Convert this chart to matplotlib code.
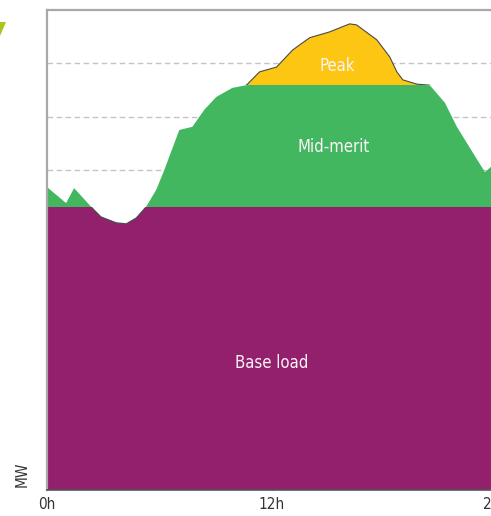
import matplotlib.pyplot as plt
from matplotlib.patches import Polygon, Rectangle
import numpy as np

# Daily load curve split into base load / mid-merit / peak bands

##########################################################
###################### Input Data ########################
##########################################################

hours = [0.00, 1.02, 1.45, 2.36, 2.52, 2.89, 3.70, 4.23, 4.77, 5.30, 5.84,
         6.27, 7.07, 7.77, 8.41, 9.05, 9.91, 10.66, 11.36, 12.27, 13.13,
         14.04, 15.11, 16.18, 16.55, 17.63, 18.32, 18.70, 19.02, 19.77,
         20.46, 21.27, 21.91, 22.77, 23.41, 23.73, 24.00]
load = [5.68, 5.38, 5.66, 5.31, 5.25, 5.12, 5.01, 4.99, 5.10, 5.31, 5.63,
        6.00, 6.75, 6.81, 7.13, 7.37, 7.54, 7.59, 7.84, 7.93, 8.25,
        8.48, 8.59, 8.74, 8.72, 8.44, 8.12, 7.84, 7.69, 7.61,
        7.59, 7.26, 6.81, 6.32, 5.96, 6.06, 6.19]

base_level = 5.31
mid_level = 7.59
y_max = 9

tick_hours = [0, 12, 24]
tick_labels = ['0h', '12h', '24h']

bands = ['Base load', 'Mid-merit', 'Peak']
band_colors = ['#93206c', '#43b760', '#fdc613']
label_pos = [(12.0, 2.38), (15.32, 6.43), (15.54, 7.95)]

##########################################################
####################### Plotting #########################
##########################################################
plt.rcParams['font.family'] = ['DejaVu Sans']
plt.rcParams['font.stretch'] = 'condensed'

fig = plt.figure(figsize=(4.91, 5.16), dpi=100)
ax = fig.add_axes([47 / 491, 26 / 516, 449 / 491, 480 / 516])
ax.set_xlim(0, 24)
ax.set_ylim(0, y_max)

# area under the curve, used to clip the three bands
under = Polygon(np.column_stack([hours + [24, 0], load + [0, 0]]),
                closed=True, transform=ax.transData)

lows = [0, base_level, mid_level]
highs = [base_level, mid_level, y_max]
for lo, hi, color in zip(lows, highs, band_colors):
    band = ax.axhspan(lo, hi, color=color, lw=0, zorder=2)
    band.set_clip_path(under)

# thin outline only where the curve leaves the green band
for lo, hi in [(mid_level, y_max), (0, base_level)]:
    line, = ax.plot(hours, load, color='#4a4a4a', lw=0.8, zorder=3)
    line.set_clip_path(Rectangle((0, lo), 24, hi - lo, transform=ax.transData))

for name, (x, y) in zip(bands, label_pos):
    ax.text(x, y, name, color='#fbf4f8', fontsize=12, ha='center', va='center', zorder=4)

# grid and frame
ax.set_yticks(range(1, y_max))
ax.set_yticklabels([])
ax.tick_params(axis='y', length=0)
ax.yaxis.grid(True, color='#c4c4c4', lw=1.0, linestyle=(0, (4, 2.5)), zorder=1)
ax.set_axisbelow(True)

ax.set_xticks(tick_hours)
ax.set_xticklabels(tick_labels, fontsize=11, color='#333333')
ax.tick_params(axis='x', direction='in', length=7, width=1, color='#444444', pad=5)

for side in ['left', 'top']:
    ax.spines[side].set_color('#a8a8a8')
    ax.spines[side].set_linewidth(1.6)
ax.spines['bottom'].set_color('#555555')
ax.spines['bottom'].set_linewidth(1.2)
ax.spines['right'].set_visible(False)

ax.text(-0.055, 0.033, 'MW', transform=ax.transAxes, rotation=90,
        ha='center', va='center', fontsize=11, color='#333333')

# small green arrow tip cut at the left edge
fig.patches.append(Polygon([(0, 1 - 22 / 516), (6 / 491, 1 - 22 / 516), (0, 1 - 36 / 516)],
                           closed=True, transform=fig.transFigure,
                           facecolor='#a6c81e', edgecolor='none'))

fig.savefig('out.png', dpi=100)
